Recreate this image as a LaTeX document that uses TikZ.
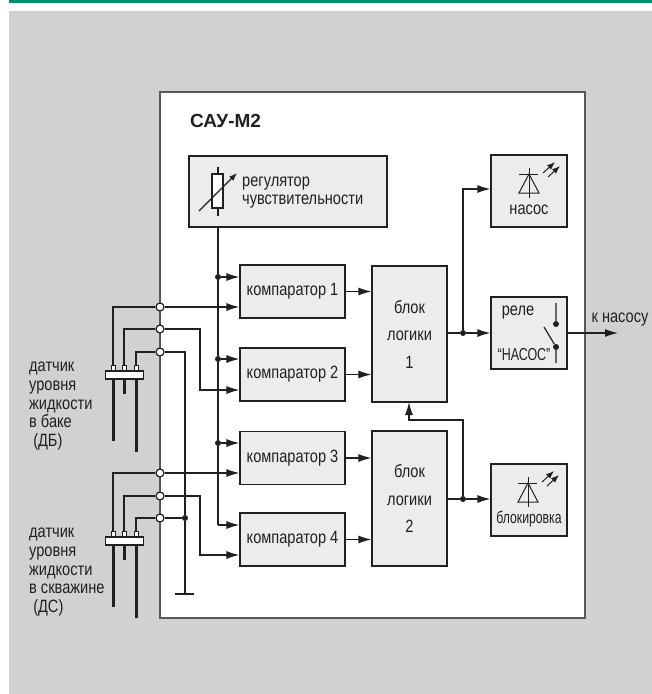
\documentclass[tikz,border=0pt]{standalone}
\usepackage{fontspec}
\setmainfont[FakeStretch=0.82]{Liberation Sans}
\newfontfamily\titlefont{Liberation Sans}
\newfontfamily\narrowfont[FakeStretch=0.72]{Liberation Sans}
\definecolor{sgreen}{RGB}{0,146,112}
\definecolor{sgray}{RGB}{208,209,211}
\definecolor{sbox}{RGB}{236,236,236}
\definecolor{sline}{RGB}{35,31,32}
\usetikzlibrary{arrows.meta,positioning,calc}
\tikzset{
  blockbox/.style={draw=sline, fill=sbox, line width=1.2pt, inner sep=0pt, align=center, font=\fontsize{17.8}{27.5}\selectfont, text=sline},
  term/.style={circle, draw=sline, fill=white, line width=1.2pt, minimum size=8pt, inner sep=0pt},
  junct/.style={circle, fill=sline, minimum size=6pt, inner sep=0pt},
  wire/.style={draw=sline, line width=1.2pt},
  sig/.style={wire, -{Latex[length=13pt,width=8pt]}},
  rod/.style={draw=sline, line width=3pt},
  lab/.style={font=\fontsize{17.8}{18.7}\selectfont, text=sline, align=left, inner sep=0pt},
  ledsym/.pic={
    \draw[sline, line width=1pt] (0,-21)--(0,9) (-10,-15)--(9,-15);
    \draw[sline, line width=1pt] (0,-15)--(-10,4)--(10,4)--cycle;
    \draw[sline, line width=1pt, -{Latex[length=8pt,width=6pt]}] (14,-16)--(26,-27);
    \draw[sline, line width=1pt, -{Latex[length=8pt,width=6pt]}] (19,-12)--(31,-23);
  }
}
\begin{document}
\begin{tikzpicture}[x=1pt,y=-1pt]
  \useasboundingbox (0,0) rectangle (652,694);
  \fill[sgreen] (9,0) rectangle (652,3);
  \fill[sgray] (9,11) rectangle (652,694);
  \draw[draw=sline!75, fill=white, line width=1.2pt] (160,92) rectangle (585,618);
  \node[anchor=west, inner sep=0pt, text=sline, font=\fontsize{19}{19}\selectfont\titlefont\bfseries] (title) at (190,121) {САУ-М2};

  \node[blockbox, minimum width=198pt, minimum height=71pt] (reg) at (288,191.5) {};
  \node[anchor=west, lab, font=\fontsize{17.8}{18.4}\selectfont] (regtxt) at (242,192.5) {регулятор\\чувствительности};

  \node[blockbox, minimum width=105pt, minimum height=53pt] (k1) at (292.5,291.5) {компаратор 1};
  \node[blockbox, minimum width=105pt, minimum height=53pt] (k2) at (292.5,374.5) {компаратор 2};
  \node[blockbox, minimum width=105pt, minimum height=53pt] (k3) at (292.5,458) {компаратор 3};
  \node[blockbox, minimum width=105pt, minimum height=53pt] (k4) at (292.5,539.5) {компаратор 4};
  \node[blockbox, minimum width=75pt, minimum height=136pt] (l1) at (409.5,334) {блок\\логики\\1};
  \node[blockbox, minimum width=75pt, minimum height=135pt] (l2) at (409.5,498.5) {блок\\логики\\2};
  \node[blockbox, minimum width=76pt, minimum height=72pt] (led1) at (529,191) {};
  \node[blockbox, minimum width=76pt, minimum height=72pt] (relay) at (529,333) {};
  \node[blockbox, minimum width=76pt, minimum height=72pt] (led2) at (529,500) {};

  % variable resistor
  \draw[wire] (218,167)--(218,216);
  \draw[draw=sline, fill=white, line width=1.1pt] (212,174) rectangle (223,208);
  \draw[draw=sline, line width=1.1pt, -{Latex[length=8pt,width=6pt]}] (199,211)--(237,173);

  % indicators
  \pic at (529,189) {ledsym};
  \pic at (528,498) {ledsym};
  \node[lab] (led1txt) at (529,210) {насос};
  \node[lab, font=\fontsize{17}{18}\selectfont\narrowfont] (led2txt) at (529,519) {блокировка};

  % relay
  \node[lab] (rtxt1) at (518,313) {реле};
  \node[lab, font=\fontsize{17.3}{18}\selectfont\narrowfont] (rtxt2) at (524,355) {“НАСОС”};
  \node[junct] (c1) at (556,324) {};
  \node[junct] (c2) at (556,347) {};
  \coordinate (c1top) at (556,303);
  \coordinate (c2bot) at (556,363);
  \coordinate (blade) at (544,327);
  \draw[wire] (c1top)--(c1) (c2)--(c2bot) (blade)--(c2);

  % sensitivity bus
  \node[junct] (b1) at (218,277) {};
  \node[junct] (b2) at (218,359) {};
  \node[junct] (b3) at (218,443) {};
  \coordinate (b4) at (218,525);
  \draw[wire] (reg.south -| b1)--(b1)--(b2)--(b3)--(b4);
  \draw[sig] (b1)--(b1 -| k1.west);
  \draw[sig] (b2)--(b2 -| k2.west);
  \draw[sig] (b3)--(b3 -| k3.west);
  \draw[sig] (b4)--(b4 -| k4.west);

  % logic
  \draw[sig] (k1.east)--(k1.east -| l1.west);
  \draw[sig] (k2.east)--(k2.east -| l1.west);
  \draw[sig] (k3.east)--(k3.east -| l2.west);
  \draw[sig] (k4.east)--(k4.east -| l2.west);
  \node[junct] (j1) at (463,333) {};
  \node[junct] (j2) at (463,499) {};
  \draw[wire] (j1 -| l1.east)--(j1);
  \draw[sig] (j1)--(relay.west);
  \draw[sig] (j1)--(463,189)--(led1.west |- 463,189);
  \draw[wire] (j2 -| l2.east)--(j2);
  \draw[sig] (j2)--(led2.west |- j2);
  \draw[sig] (j2)--(463,420)--(409,420)--(409,402);
  \coordinate (out) at (618,333);
  \draw[sig] (relay.east)--(out);
  \node[lab, anchor=base] (outtxt) at (620,322) {к насосу};

  % terminals
  \foreach \n/\y in {t1/307,t2/329,t3/352,t4/473,t5/496,t6/518}
    \node[term] (\n) at (160,\y) {};

  % sensor DB
  \draw[wire] (113,367)--(113,307)--(t1);
  \draw[wire] (124,367)--(124,329)--(t2);
  \draw[wire] (136,367)--(136,352)--(t3);
  \draw[sig] (t1)--(t1 -| k1.west);
  \draw[sig] (t2)--(200,329)--(200,390)--(k2.west |- 200,390);
  % sensor DS
  \draw[wire] (113,533)--(113,473)--(t4);
  \draw[wire] (124,533)--(124,496)--(t5);
  \draw[wire] (136,533)--(136,518)--(t6);
  \draw[sig] (t4)--(t4 -| k3.west);
  \draw[sig] (t5)--(200,496)--(200,555)--(k4.west |- 200,555);
  % ground
  \node[junct] (g1) at (185,518) {};
  \coordinate (g0) at (185,594);
  \draw[wire] (t3)--(185,352)--(g1)--(g0) (t6)--(g1);
  \draw[draw=sline, line width=2.2pt] (175,594)--(194,594);

  \foreach \yb in {371,537}{
    \draw[rod] (113,\yb+8)--(113,\yb+70);
    \draw[rod] (124,\yb+8)--(124,\yb+23);
    \draw[rod] (136,\yb+8)--(136,\yb+81);
    \foreach \xb in {113,124,136}
      \draw[draw=sline, fill=white, line width=.9pt] (\xb-2,\yb-6) rectangle (\xb+2,\yb);
    \draw[draw=sline, fill=white, line width=1.1pt] (105.5,\yb) rectangle (143.5,\yb+8);
  }

  \node[lab, anchor=north west] (db) at (29,362) {датчик\\уровня\\жидкости\\в баке\\\ (ДБ)};
  \node[lab, anchor=north west] (ds) at (29,528) {датчик\\уровня\\жидкости\\в скважине\\\ (ДС)};
\end{tikzpicture}
\end{document}
